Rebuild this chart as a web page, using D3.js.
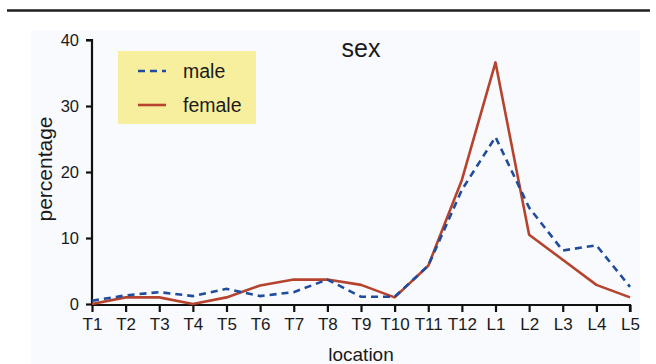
<!DOCTYPE html>
<html lang="en">
<head>
<meta charset="utf-8">
<script src="https://d3js.org/d3.v7.min.js"></script>
<style>
	body { margin:0; background:#fff; }
	text { font-family: "Liberation Sans", Arial, sans-serif; fill:#1a1a1a; }
</style>
</head>
<body>
<script>
	// data
	var locations = ["T1","T2","T3","T4","T5","T6","T7","T8","T9","T10","T11","T12","L1","L2","L3","L4","L5"];
	var male   = [0.5, 1.3, 1.8, 1.2, 2.3, 1.2, 1.8, 3.7, 1.1, 1.1, 5.8, 17.3, 25.3, 14.6, 8.1, 8.9, 2.6];
	var female = [0.0, 1.0, 1.0, 0.0, 1.0, 2.8, 3.7, 3.7, 2.9, 1.0, 5.8, 18.8, 36.6, 10.5, 6.7, 2.9, 1.0];
	var yTicks = [0, 10, 20, 30, 40];
	var seriesNames = ["male", "female"];

	var W = 656, H = 364;
	var svg = d3.select("body").append("svg").attr("width", W).attr("height", H);

	// rule at top + faint panel
	svg.append("line").attr("x1", 7).attr("x2", 650).attr("y1", 10.5).attr("y2", 10.5)
		.attr("stroke", "#231f20").attr("stroke-width", 2.5);
	svg.append("rect").attr("x", 31).attr("y", 30).attr("width", 609).attr("height", 334).attr("fill", "#f9fafd");

	var x = d3.scalePoint().domain(locations).range([92, 630]);
	var y = d3.scaleLinear().domain([0, 40]).range([304, 40]);

	// y axis
	var gy = svg.append("g").attr("transform", "translate(92,0)")
		.call(d3.axisLeft(y).tickValues(yTicks).tickSize(6).tickPadding(7));
	// x axis
	var gx = svg.append("g").attr("transform", "translate(0,305)")
		.call(d3.axisBottom(x).tickSize(7).tickPadding(6));
	[gx, gy].forEach(function(g){
		g.select(".domain").attr("stroke", "#111").attr("stroke-width", 2.2);
		g.selectAll(".tick line").attr("stroke", "#111").attr("stroke-width", 2.2);
		g.selectAll(".tick text").style("font-size", "17px").attr("fill", "#161616")
			.style("font-family", "'Liberation Sans', Arial, sans-serif");
	});
	gy.selectAll(".tick text").style("font-size", "16.5px");
	gy.select(".domain").attr("d", "M-6,40H0V305");
	gx.select(".domain").attr("d", "M91,0H630V7");

	// axis titles
	svg.append("text").attr("x", 361).attr("y", 361).attr("text-anchor", "middle")
		.style("font-size", "19px").text("location");
	svg.append("text").attr("transform", "translate(52,169) rotate(-90)").attr("text-anchor", "middle")
		.style("font-size", "21px").text("percentage");
	svg.append("text").attr("x", 361).attr("y", 57).attr("text-anchor", "middle")
		.style("font-size", "25px").text("sex");

	// lines
	var line = d3.line().x(function(d, i){ return x(locations[i]); }).y(function(d){ return y(d); });
	svg.append("path").datum(female).attr("d", line).attr("fill", "none")
		.attr("stroke", "#b5432e").attr("stroke-width", 2.6).attr("stroke-linejoin", "round");
	svg.append("path").datum(male).attr("d", line).attr("fill", "none")
		.attr("stroke", "#1f4c9c").attr("stroke-width", 2.6).attr("stroke-dasharray", "7,5");

	// legend
	var leg = svg.append("g");
	leg.append("rect").attr("x", 118).attr("y", 51).attr("width", 138).attr("height", 73).attr("fill", "#f8ef9e");
	var styles = [{c:"#1f4c9c", d:"7,5"}, {c:"#b5432e", d:null}];
	seriesNames.forEach(function(n, i){
		var yy = 71 + i*34;
		leg.append("line").attr("x1", 138).attr("x2", 166).attr("y1", yy).attr("y2", yy)
			.attr("stroke", styles[i].c).attr("stroke-width", 2.6).attr("stroke-dasharray", styles[i].d);
		leg.append("text").attr("x", 183).attr("y", yy + 7).style("font-size", "19.5px").text(n);
	});
</script>
</body>
</html>
